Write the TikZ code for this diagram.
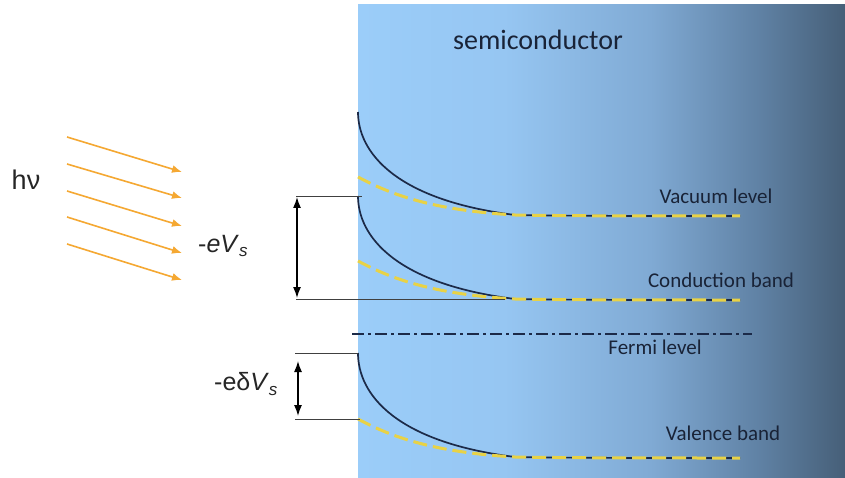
\documentclass[tikz,border=0pt]{standalone}
\usepackage{fontspec}
\setmainfont{Carlito}
\newfontfamily\arialfont{Liberation Sans}
\usetikzlibrary{arrows.meta}
\definecolor{semiL}{RGB}{155,205,249}
\definecolor{semiA}{RGB}{150,198,242}
\definecolor{semiM}{RGB}{128,170,212}
\definecolor{semiN}{RGB}{96,130,165}
\definecolor{semiR}{RGB}{70,95,120}
\definecolor{bandnavy}{RGB}{28,42,72}
\definecolor{bandyellow}{RGB}{232,210,70}
\definecolor{photon}{RGB}{245,168,50}
\definecolor{reftext}{RGB}{25,35,55}
\pgfdeclarehorizontalshading{semishade}{100bp}{color(0bp)=(semiL); color(25bp)=(semiL); color(40bp)=(semiA); color(55bp)=(semiM); color(66bp)=(semiN); color(75bp)=(semiR); color(100bp)=(semiR)}
\tikzset{
  band/.style={draw=bandnavy, line width=1.7pt},
  bandshift/.style={draw=bandyellow, line width=3pt, dash pattern=on 14pt off 6pt},
  refline/.style={draw=black!75, line width=1pt},
  gaparrow/.style={draw=black, line width=1.4pt, {Latex[length=11pt,width=8pt]}-{Latex[length=11pt,width=8pt]}},
  photonarrow/.style={draw=photon, line width=1.6pt, -{Latex[length=10pt,width=8pt]}},
  levellabel/.style={font=\fontsize{21}{24}\selectfont, text=reftext, inner sep=0pt},
  mathlabel/.style={font=\arialfont\fontsize{25}{28}\selectfont, text=black!85, inner sep=0pt}
}
\begin{document}
\begin{tikzpicture}[x=1pt,y=-1pt]
\useasboundingbox (0,0) rectangle (845,478);
\fill[white] (0,0) rectangle (845,478);
% semiconductor block
\shade[shading=semishade] (358,5) rectangle (845,478);
\node[font=\fontsize{28}{32}\selectfont, text=reftext, inner sep=0pt] (semi) at (538,40) {semiconductor};

% photons
\foreach \i/\ys/\ye in {1/137/172, 2/164/198, 3/191/226, 4/217/253, 5/244/280}{
  \coordinate (ps\i) at (67,\ys);
  \coordinate (pe\i) at (182,\ye);
  \draw[photonarrow] (ps\i) -- (pe\i);
}
\node[font=\arialfont\fontsize{27}{30}\selectfont, text=black!85, inner sep=0pt] (hnu) at (26,180) {hν};

% vacuum level (flat at 216)
\draw[band] (358,112) .. controls (358,152) and (395,200) .. (515,215) .. controls (580,216) and (640,216) .. (740,216);
\draw[bandshift] (358,177) .. controls (390,194) and (430,210) .. (515,215) .. controls (580,216) and (640,216) .. (740,216);
% conduction band (flat at 300)
\draw[band] (358,196) .. controls (358,236) and (395,284) .. (515,299) .. controls (580,300) and (640,300) .. (740,300);
\draw[bandshift] (358,261) .. controls (390,278) and (430,294) .. (515,299) .. controls (580,300) and (640,300) .. (740,300);
% valence band (flat at 458)
\draw[band] (358,353) .. controls (358,394) and (395,442) .. (515,457) .. controls (580,458) and (640,458) .. (740,458);
\draw[bandshift] (358,419) .. controls (390,436) and (430,452) .. (515,457) .. controls (580,458) and (640,458) .. (740,458);
% Fermi level
\coordinate (ef1) at (352,334);
\coordinate (ef2) at (752,334);
\draw[draw=bandnavy, line width=1.3pt, dash pattern=on 12pt off 4pt on 3pt off 4pt] (ef1) -- (ef2);

% reference lines
\coordinate (cbt0) at (296,197); \coordinate (cbt1) at (362,197);
\coordinate (cbb0) at (296,299); \coordinate (cbb1) at (505,299);
\coordinate (vbt0) at (295,353); \coordinate (vbt1) at (358,353);
\coordinate (vbb0) at (295,419); \coordinate (vbb1) at (360,419);
\draw[refline] (cbt0) -- (cbt1);
\draw[refline] (cbb0) -- (cbb1);
\draw[refline] (vbt0) -- (vbt1);
\draw[refline] (vbb0) -- (vbb1);

% band bending arrows
\coordinate (a1t) at (297,197); \coordinate (a1b) at (297,298);
\coordinate (a2t) at (298,361); \coordinate (a2b) at (298,416);
\draw[gaparrow] (a1t) -- (a1b);
\draw[gaparrow] (a2t) -- (a2b);

\node[mathlabel, anchor=west] (evs) at (198,246) {-\textit{eV}\raisebox{-0.35ex}{\fontsize{17}{19}\selectfont\textit{s}}};
\node[mathlabel, anchor=west] (edvs) at (214,384) {-eδ\textit{V}\raisebox{-0.35ex}{\fontsize{17}{19}\selectfont\textit{s}}};

% level labels
\node[levellabel] (vl) at (716,196) {Vacuum level};
\node[levellabel] (cb) at (721,280) {Conduction band};
\node[levellabel] (fl) at (655,347) {Fermi level};
\node[levellabel] (vb) at (723,433) {Valence band};
\end{tikzpicture}
\end{document}
